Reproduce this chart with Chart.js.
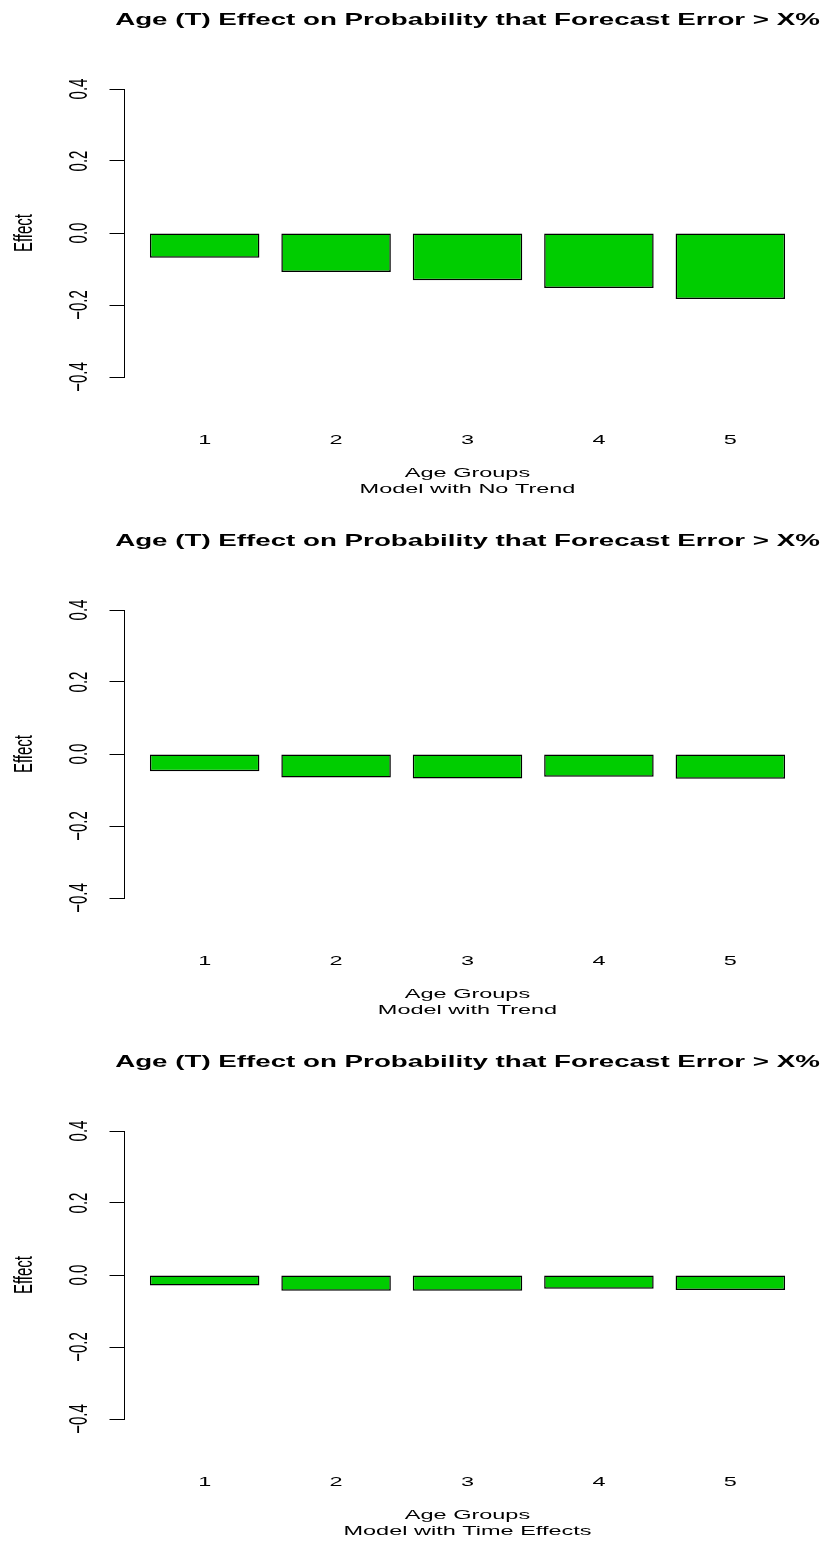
<!DOCTYPE html>
<html>
<head>
<meta charset="utf-8">
<script src="https://cdn.jsdelivr.net/npm/chart.js@4"></script>
<style>
  html, body { margin: 0; padding: 0; background: #fff; }
  #wrap { position: relative; width: 825px; height: 1543px; overflow: hidden; }
  #wrap canvas { position: absolute; left: 0; }
</style>
</head>
<body>
<div id="wrap">
  <canvas id="p1" width="825" height="521" style="top:-10px"></canvas>
  <canvas id="p2" width="825" height="521" style="top:511px"></canvas>
  <canvas id="p3" width="825" height="521" style="top:1032px"></canvas>
</div>
<script>
// ─── DATA ──────────────────────────────────────────────────────────────────
const groups        = ['1', '2', '3', '4', '5'];
const effectNoTrend = [-0.069, -0.108, -0.131, -0.153, -0.183];
const effectTrend   = [-0.048, -0.065, -0.068, -0.063, -0.069];
const effectTime    = [-0.029, -0.044, -0.044, -0.038, -0.042];
const yTicks        = [-0.4, -0.2, 0, 0.2, 0.4];

const mainTitle = 'Age (T) Effect on Probability that Forecast Error > X%';
const xTitle    = 'Age Groups';
const yTitle    = 'Effect';

const FONT = 'Liberation Sans, Arial, Helvetica, sans-serif';
const SX   = 1.74;   // the reference is stretched sideways

function stretchText(ctx, text, x, y, font, rotate, sx = SX) {
  ctx.save();
  ctx.font = font;
  ctx.fillStyle = '#000';
  ctx.textAlign = 'center';
  ctx.textBaseline = 'middle';
  ctx.translate(x, y);
  ctx.scale(sx, 1);
  if (rotate) ctx.rotate(-Math.PI / 2);
  ctx.fillText(text, 0, 0);
  ctx.restore();
}

const fmtTick = v => v.toFixed(1).replace('-', '\u2212');

// titres, étiquettes des axes et sous-titre à la manière de R
const rText = {
  id: 'rText',
  afterDraw(chart, args, opts) {
    const { ctx, chartArea, scales: { x, y } } = chart;
    const cx = (chartArea.left + chartArea.right) / 2;

    stretchText(ctx, mainTitle, cx, chartArea.top - 69, `bold 16.5px ${FONT}`, false, 1.68);

    x.ticks.forEach(t => {
      stretchText(ctx, groups[t.value], x.getPixelForValue(t.value), chartArea.bottom + 63, `13.5px ${FONT}`);
    });

    y.ticks.forEach(t => {
      stretchText(ctx, fmtTick(t.value), 79.5, y.getPixelForValue(t.value), `15px ${FONT}`, true);
    });

    stretchText(ctx, xTitle,   cx, chartArea.bottom + 96,  `13.5px ${FONT}`);
    stretchText(ctx, opts.sub, cx, chartArea.bottom + 112, `13.5px ${FONT}`);

    stretchText(ctx, yTitle, 24.5, y.getPixelForValue(0), `15px ${FONT}`, true);
  },
};

function makePanel(id, values, sub) {
  return new Chart(document.getElementById(id), {
    type: 'bar',
    data: {
      datasets: [{
        data: values.map((v, i) => ({ x: i, y: v })),
        backgroundColor: '#00CD00',
        borderColor: '#000',
        borderWidth: 1.5,
        borderSkipped: false,
        barPercentage: 1 / 1.2,
        categoryPercentage: 1,
      }],
    },
    options: {
      responsive: false,
      animation: false,
      devicePixelRatio: 1,
      layout: { padding: { top: 99, right: 14.5, left: 0, bottom: 0 } },
      plugins: {
        legend:  { display: false },
        tooltip: { enabled: false },
        rText:   { sub },
      },
      scales: {
        x: {
          type: 'linear',
          offset: false,
          min: -0.61,
          max: 4.61,
          grid:   { display: false, drawTicks: false },
          border: { display: false },
          ticks:  { display: false },
          afterBuildTicks: s => { s.ticks = groups.map((g, i) => ({ value: i })); },
          afterFit: s => { s.height = 134; },
        },
        y: {
          min: -0.4,
          max: 0.4,
          grid:   { drawOnChartArea: false, color: '#000', tickLength: 15 },
          border: { color: '#000', width: 1 },
          afterBuildTicks: s => { s.ticks = yTicks.map(v => ({ value: v })); },
          afterFit: s => { s.width = 124.5; },
          ticks: { display: false },
        },
      },
    },
    plugins: [rText],
  });
}

makePanel('p1', effectNoTrend, 'Model with No Trend');
makePanel('p2', effectTrend,   'Model with Trend');
makePanel('p3', effectTime,    'Model with Time Effects');
</script>
</body>
</html>
